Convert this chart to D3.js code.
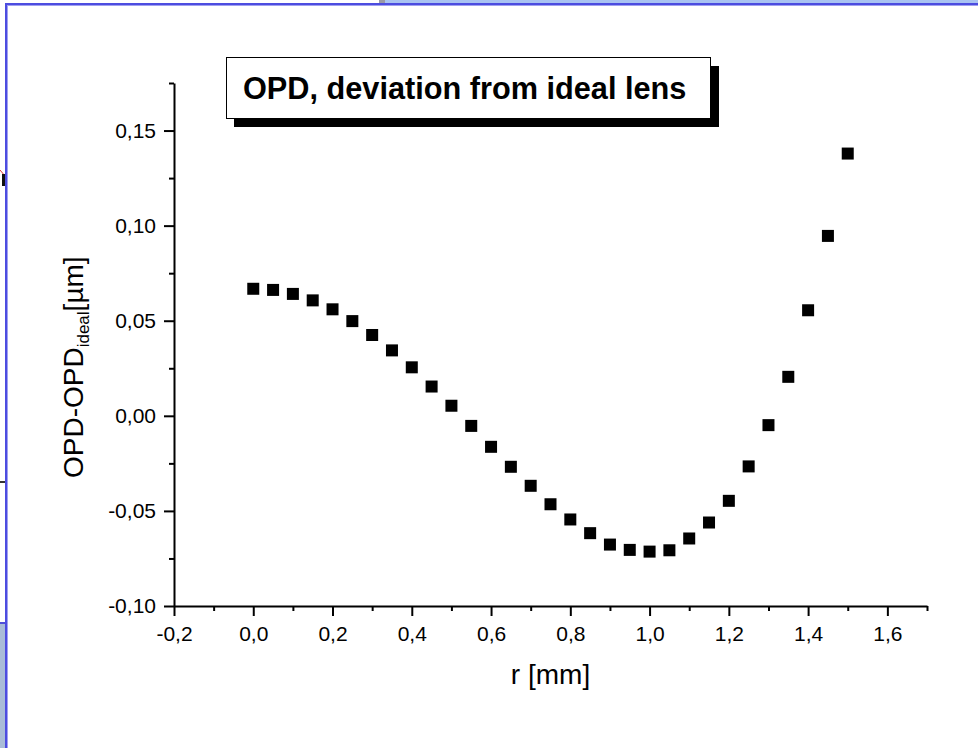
<!DOCTYPE html>
<html>
<head>
<meta charset="utf-8">
<script src="https://cdn.jsdelivr.net/npm/d3@7"></script>
<style>
  html, body { margin: 0; padding: 0; background: #ffffff; }
  svg { display: block; }
  text { font-family: "Liberation Sans", Arial, sans-serif; fill: #000; }
</style>
</head>
<body>
<script>
// ---- data ----
const rValues = [0.00,0.05,0.10,0.15,0.20,0.25,0.30,0.35,0.40,0.45,0.50,0.55,0.60,0.65,0.70,0.75,0.80,0.85,0.90,0.95,1.00,1.05,1.10,1.15,1.20,1.25,1.30,1.35,1.40,1.45,1.50];
const opdValues = [0.0668,0.0662,0.0641,0.0607,0.0560,0.0498,0.0425,0.0344,0.0255,0.0154,0.0053,-0.0053,-0.0163,-0.0268,-0.0368,-0.0465,-0.0545,-0.0617,-0.0677,-0.0705,-0.0714,-0.0707,-0.0645,-0.0561,-0.0447,-0.0266,-0.0049,0.0205,0.0555,0.0946,0.1379];

const xTickValues = [-0.2,0.0,0.2,0.4,0.6,0.8,1.0,1.2,1.4,1.6];
const xTickLabels = ["-0,2","0,0","0,2","0,4","0,6","0,8","1,0","1,2","1,4","1,6"];
const xMinorTicks = [-0.1,0.1,0.3,0.5,0.7,0.9,1.1,1.3,1.5,1.7];
const yTickValues = [-0.10,-0.05,0.00,0.05,0.10,0.15];
const yTickLabels = ["-0,10","-0,05","0,00","0,05","0,10","0,15"];
const yMinorTicks = [-0.075,-0.025,0.025,0.075,0.125,0.175];

const titleText = "OPD, deviation from ideal lens";
const xTitle = "r [mm]";

// ---- setup ----
const W = 978, H = 748;
const svg = d3.select("body").append("svg").attr("width", W).attr("height", H);

// background window decoration (screenshot frame)
svg.append("rect").attr("x", 385).attr("y", 0).attr("width", W - 385).attr("height", 3).attr("fill", "#a9c3f2");
svg.append("rect").attr("x", 379).attr("y", 0).attr("width", 6).attr("height", 3).attr("fill", "#9a9aa6");
svg.append("rect").attr("x", 0).attr("y", 624).attr("width", 5).attr("height", H - 624).attr("fill", "#a9bcd8");
svg.append("rect").attr("x", 0).attr("y", 622).attr("width", 6).attr("height", 2).attr("fill", "#5050d8");
svg.append("rect").attr("x", 0).attr("y", 481).attr("width", 6).attr("height", 2).attr("fill", "#333");
svg.append("line").attr("x1", 0).attr("y1", 170).attr("x2", 5).attr("y2", 176).attr("stroke", "#e03030").attr("stroke-width", 1);
svg.append("rect").attr("x", 2).attr("y", 174).attr("width", 3).attr("height", 12).attr("fill", "#111");
// blue frame
svg.append("rect").attr("x", 5).attr("y", 3).attr("width", W - 5).attr("height", 2).attr("fill", "#4c4ce0");
svg.append("rect").attr("x", 5).attr("y", 3).attr("width", 2).attr("height", H - 3).attr("fill", "#4c4ce0");
svg.append("rect").attr("x", 7).attr("y", 5).attr("width", 1).attr("height", H - 5).attr("fill", "#a0a0f0");
svg.append("rect").attr("x", 7).attr("y", 5).attr("width", W - 7).attr("height", 1).attr("fill", "#a0a0f0");

// ---- scales ----
const x = d3.scaleLinear().domain([-0.2, 1.7]).range([174, 927]);
const y = d3.scaleLinear().domain([-0.10, 0.175]).range([606, 83]);

const axisStroke = 2;

// x axis
const gx = svg.append("g").attr("transform", "translate(0,606)");
gx.call(d3.axisBottom(x).tickValues(xTickValues).tickSize(10).tickSizeOuter(0).tickPadding(10)
  .tickFormat((d, i) => xTickLabels[i]));
gx.append("g").call(d3.axisBottom(x).tickValues(xMinorTicks).tickSize(5).tickSizeOuter(0).tickFormat(""))
  .select(".domain").remove();
gx.selectAll("path.domain").attr("stroke", "#000").attr("stroke-width", axisStroke);
gx.selectAll(".tick line").attr("stroke", "#000").attr("stroke-width", axisStroke);
gx.selectAll(".tick text").attr("font-size", 21).attr("font-family", "Liberation Sans, Arial, sans-serif");

// y axis
const gy = svg.append("g").attr("transform", "translate(174,0)");
gy.call(d3.axisLeft(y).tickValues(yTickValues).tickSize(10).tickSizeOuter(0).tickPadding(8)
  .tickFormat((d, i) => yTickLabels[i]));
gy.append("g").call(d3.axisLeft(y).tickValues(yMinorTicks).tickSize(5).tickSizeOuter(0).tickFormat(""))
  .select(".domain").remove();
gy.selectAll("path.domain").attr("stroke", "#000").attr("stroke-width", axisStroke);
gy.selectAll(".tick line").attr("stroke", "#000").attr("stroke-width", axisStroke);
gy.selectAll(".tick text").attr("font-size", 21).attr("font-family", "Liberation Sans, Arial, sans-serif");

// markers
const ms = 12;
svg.append("g").selectAll("rect.pt").data(rValues.map((r, i) => ({ r, v: opdValues[i] })))
  .enter().append("rect").attr("class", "pt")
  .attr("x", d => x(d.r) - ms / 2).attr("y", d => y(d.v) - ms / 2)
  .attr("width", ms).attr("height", ms).attr("fill", "#000");

// axis titles
svg.append("text").attr("x", (x.range()[0] + x.range()[1]) / 2).attr("y", 684)
  .attr("text-anchor", "middle").attr("font-size", 28).text(xTitle);

const yl = svg.append("text").attr("transform", "translate(83,478) rotate(-90)")
  .attr("text-anchor", "start").attr("font-size", 28);
yl.append("tspan").text("OPD-OPD");
yl.append("tspan").attr("font-size", 17).attr("dy", 6).text("ideal");
yl.append("tspan").attr("dy", -6).text("[\u00b5m]");

// title box with shadow
svg.append("rect").attr("x", 234).attr("y", 66).attr("width", 485).attr("height", 61).attr("fill", "#000");
svg.append("rect").attr("x", 226.5).attr("y", 57.5).attr("width", 484).attr("height", 61)
  .attr("fill", "#fff").attr("stroke", "#000").attr("stroke-width", 1);
svg.append("text").attr("x", 243).attr("y", 99).attr("font-size", 30.7).attr("font-weight", "bold").text(titleText);
</script>
</body>
</html>
